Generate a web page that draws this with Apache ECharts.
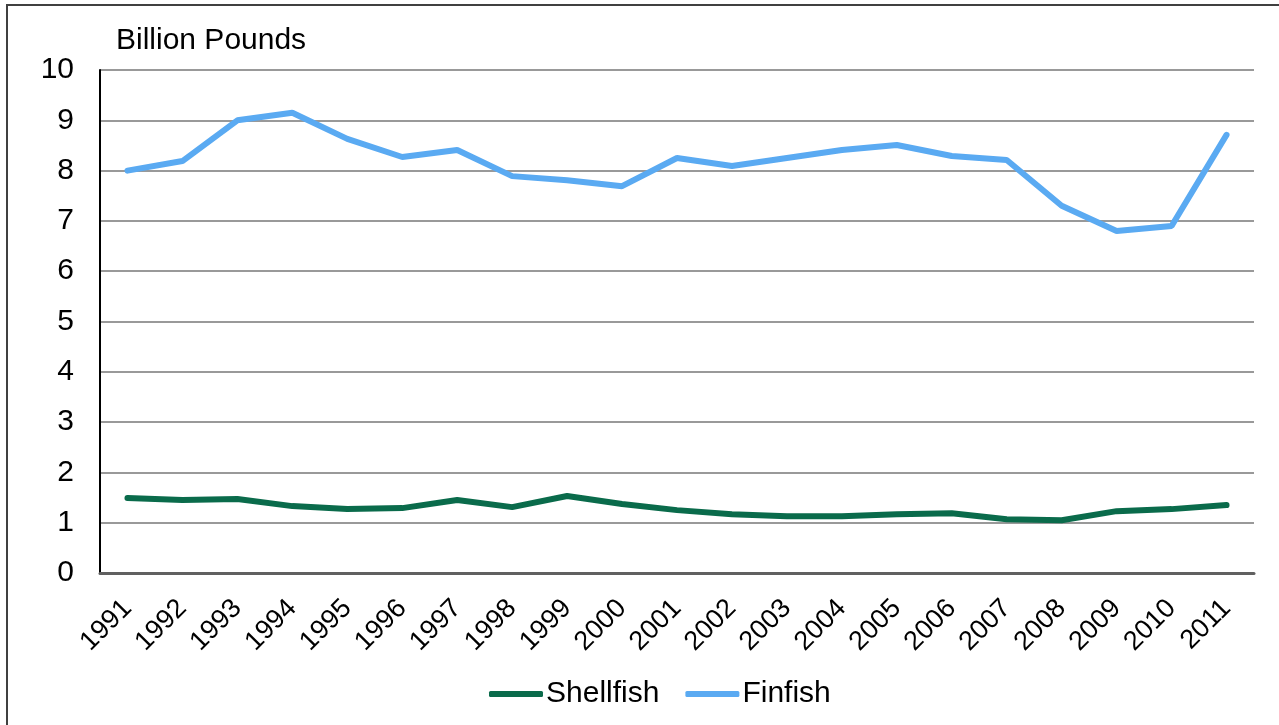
<!DOCTYPE html>
<html><head><meta charset="utf-8">
<script src="https://cdn.jsdelivr.net/npm/echarts@6/dist/echarts.min.js"></script>
<style>html,body{margin:0;padding:0;background:#fff}#c{width:1279px;height:725px}</style>
</head><body><div id="c"></div>
<script>
const years = ['1991','1992','1993','1994','1995','1996','1997','1998','1999','2000','2001','2002','2003','2004','2005','2006','2007','2008','2009','2010','2011'];
const shellfish = [1.49,1.45,1.47,1.33,1.27,1.29,1.45,1.31,1.53,1.37,1.25,1.17,1.13,1.13,1.17,1.19,1.07,1.05,1.23,1.27,1.35];
const finfish = [8.0,8.19,9.0,9.15,8.63,8.27,8.41,7.89,7.81,7.69,8.25,8.09,8.25,8.41,8.51,8.29,8.21,7.30,6.80,6.90,8.71];
const chart = echarts.init(document.getElementById('c'), null, {renderer:'canvas'});
const font = '"Liberation Sans", Arial, sans-serif';
chart.setOption({
  animation:false,
  textStyle:{fontFamily:font},
  graphic:[{type:'rect',shape:{x:7,y:5,width:1290,height:740},style:{fill:'none',stroke:'#404040',lineWidth:2},silent:true},
    {type:'text',left:116,top:26,style:{text:'Billion Pounds',fontSize:30,fontFamily:font,fill:'#000'}}],
  grid:{left:100,right:25,top:70,bottom:152,containLabel:false},
  legend:{top:674,left:484,itemWidth:54,itemHeight:6,itemGap:26,icon:'roundRect',
    textStyle:{fontSize:30,color:'#000',fontFamily:font,padding:[0,0,0,-2]},
    data:['Shellfish','Finfish']},
  xAxis:{type:'category',data:years,boundaryGap:true,
    axisLine:{lineStyle:{color:'#606060',width:3}},
    axisTick:{show:false},
    axisLabel:{rotate:45,fontSize:27,color:'#000',margin:31,fontFamily:font,interval:0}},
  yAxis:{type:'value',min:0,max:10,interval:1,
    axisLine:{show:true,lineStyle:{color:'#000',width:2}},
    axisTick:{show:false},
    splitLine:{lineStyle:{color:'#777',width:1.5}},
    axisLabel:{fontSize:30,color:'#000',margin:26,fontFamily:font}},
  series:[
    {name:'Shellfish',type:'line',data:shellfish,symbol:'none',lineStyle:{color:'#0a6b4b',width:6,cap:'round'},itemStyle:{color:'#0a6b4b'}},
    {name:'Finfish',type:'line',data:finfish,symbol:'none',lineStyle:{color:'#5aaaf2',width:6,cap:'round'},itemStyle:{color:'#5aaaf2'}}
  ]
});
</script></body></html>
